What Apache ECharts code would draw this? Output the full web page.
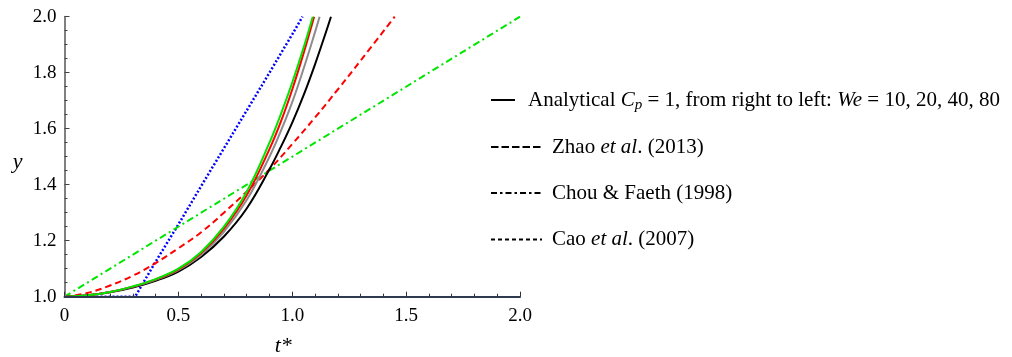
<!DOCTYPE html>
<html>
<head>
<meta charset="utf-8">
<script src="https://cdn.jsdelivr.net/npm/echarts@6/dist/echarts.min.js"></script>
<style>
  html, body { margin: 0; padding: 0; background: #fff; }
  #chart { width: 1012px; height: 357px; }
</style>
</head>
<body>
<div id="chart"></div>
<script>
// Axis ticks
const xTicks = [0, 0.5, 1.0, 1.5, 2.0];
const xTickLabels = ['0', '0.5', '1.0', '1.5', '2.0'];
const yTicks = [1.0, 1.2, 1.4, 1.6, 1.8, 2.0];
const yTickLabels = ['1.0', '1.2', '1.4', '1.6', '1.8', '2.0'];

// Analytical solution, Cp = 1, We = 10 (black)
const tWe10 = [0, 0.1, 0.2, 0.3, 0.4, 0.5, 0.6, 0.7, 0.8, 0.9, 0.95, 1.0, 1.05, 1.1, 1.15, 1.17];
const yWe10 = [1, 1.005, 1.016, 1.033, 1.057, 1.09, 1.142, 1.215, 1.315, 1.455, 1.535, 1.622, 1.72, 1.83, 1.95, 2.0];
// We = 20 (gray)
const tWe20 = [0, 0.1, 0.2, 0.3, 0.4, 0.5, 0.6, 0.7, 0.8, 0.9, 0.95, 1.0, 1.05, 1.1, 1.12];
const yWe20 = [1, 1.005, 1.017, 1.035, 1.06, 1.095, 1.15, 1.232, 1.345, 1.5, 1.592, 1.695, 1.815, 1.945, 2.0];
// We = 40 (red)
const tWe40 = [0, 0.1, 0.2, 0.3, 0.4, 0.5, 0.6, 0.7, 0.8, 0.9, 0.95, 1.0, 1.05, 1.096];
const yWe40 = [1, 1.005, 1.017, 1.036, 1.062, 1.098, 1.156, 1.243, 1.362, 1.527, 1.625, 1.74, 1.87, 2.0];
// We = 80 (green)
const tWe80 = [0, 0.1, 0.2, 0.3, 0.4, 0.5, 0.6, 0.7, 0.8, 0.9, 0.95, 1.0, 1.05, 1.09];
const yWe80 = [1, 1.005, 1.017, 1.037, 1.063, 1.1, 1.16, 1.25, 1.375, 1.55, 1.652, 1.765, 1.89, 2.0];

// Zhao et al. (2013)
const tZhao = [0, 0.1, 0.2, 0.3, 0.4, 0.5, 0.6, 0.7, 0.8, 0.9, 1.0, 1.1, 1.2, 1.3, 1.45];
const yZhao = [1, 1.013, 1.04, 1.075, 1.12, 1.173, 1.23, 1.3, 1.375, 1.455, 1.545, 1.64, 1.74, 1.843, 2.0];
// Chou & Faeth (1998)
const tChou = [0, 2.0];
const yChou = [1, 2.0];
// Cao et al. (2007)
const tCao = [0, 0.31, 0.4, 0.5, 0.6, 0.7, 0.8, 0.9, 1.0, 1.045];
const yCao = [1, 1, 1.125, 1.258, 1.395, 1.53, 1.665, 1.8, 1.937, 2.0];

const zip = (ts, ys) => ts.map((t, i) => [t, ys[i]]);

const FONT = 'Liberation Serif';
const GREEN = '#00e600';
const ANALYTICAL = 'Analytical';
const ZHAO = 'Zhao et al. (2013)';
const CHOU = 'Chou & Faeth (1998)';
const CAO = 'Cao et al. (2007)';

const LEG_FS = 21;
const legendText = {
  [ANALYTICAL]: '{a|Analytical }{i|C}{s|p}{n| = 1, from right to left: }{i|We}{n| = 10, 20, 40, 80}',
  [ZHAO]: '{b|Zhao }{i|et al}{n|. (2013)}',
  [CHOU]: '{b|Chou & Faeth (1998)}',
  [CAO]: '{b|Cao }{i|et al}{n|. (2007)}'
};

const richStyles = {
  a: { fontFamily: FONT, fontSize: LEG_FS, color: '#000', padding: [0, 0, 0, 8] },
  b: { fontFamily: FONT, fontSize: LEG_FS, color: '#000', padding: [0, 0, 0, 5] },
  n: { fontFamily: FONT, fontSize: LEG_FS, color: '#000' },
  i: { fontFamily: FONT, fontSize: LEG_FS, fontStyle: 'italic', color: '#000' },
  s: { fontFamily: FONT, fontSize: 15, fontStyle: 'italic', color: '#000', padding: [11, 0, 0, 0] }
};

// one legend block per row so each row sits at its own height
function legendRow(name, rowY, iconWidth, dash) {
  return {
    show: true,
    orient: 'vertical',
    left: 490,
    top: rowY - 10,
    itemWidth: iconWidth,
    itemHeight: 14,
    itemGap: 0,
    padding: 0,
    selectedMode: false,
    data: [{
      name: name,
      lineStyle: { color: '#000', width: 2, type: dash, cap: 'butt' },
      itemStyle: { color: 'rgba(0,0,0,0)', borderWidth: 0, opacity: 0 }
    }],
    formatter: (n) => legendText[n],
    textStyle: { fontFamily: FONT, fontSize: LEG_FS, color: '#000', rich: richStyles }
  };
}

function curve(name, ts, ys, color, type, width, smooth, z) {
  return {
    type: 'line',
    name: name,
    data: zip(ts, ys),
    showSymbol: false,
    symbol: 'none',
    smooth: smooth,
    clip: true,
    z: z,
    lineStyle: { color: color, width: width, type: type, cap: 'butt' },
    itemStyle: { color: color },
    emphasis: { disabled: true }
  };
}

const chart = echarts.init(document.getElementById('chart'), null, { renderer: 'canvas' });

chart.setOption({
  backgroundColor: '#fff',
  animation: false,
  grid: { left: 64.5, right: 492, top: 16.7, bottom: 60.3, containLabel: false, outerBoundsMode: 'none' },
  xAxis: {
    type: 'value',
    min: xTicks[0],
    max: xTicks[xTicks.length - 1],
    interval: 0.5,
    name: 't*',
    nameLocation: 'middle',
    nameGap: 39,
    nameTextStyle: { fontFamily: FONT, fontSize: 22, fontStyle: 'italic', color: '#000', padding: [0, 18, 0, 0] },
    axisLine: { show: true, onZero: false, lineStyle: { color: '#2e3a4e', width: 2 } },
    axisTick: { show: true, inside: true, length: 5, lineStyle: { color: '#333', width: 1 } },
    minorTick: { show: true, splitNumber: 5, length: 3, lineStyle: { color: '#333', width: 1 } },
    splitLine: { show: false },
    minorSplitLine: { show: false },
    axisLabel: {
      margin: 10,
      fontFamily: FONT,
      fontSize: 19,
      color: '#000',
      formatter: (v) => xTickLabels[xTicks.findIndex(t => Math.abs(t - v) < 1e-6)]
    },
    z: 5
  },
  yAxis: {
    type: 'value',
    min: yTicks[0],
    max: yTicks[yTicks.length - 1],
    interval: 0.2,
    name: '{v|y}',
    nameLocation: 'middle',
    nameRotate: 0,
    nameGap: 42,
    nameTextStyle: {
      fontFamily: FONT, fontSize: 22, fontStyle: 'italic', color: '#000',
      rich: { v: { fontFamily: FONT, fontSize: 22, fontStyle: 'italic', color: '#000', padding: [12, 0, 0, 0] } }
    },
    axisLine: { show: true, onZero: false, lineStyle: { color: '#808080', width: 2 } },
    axisTick: { show: true, inside: true, length: 5, lineStyle: { color: '#444', width: 1 } },
    minorTick: { show: true, splitNumber: 4, length: 3, lineStyle: { color: '#444', width: 1 } },
    splitLine: { show: false },
    minorSplitLine: { show: false },
    axisLabel: {
      margin: 8,
      fontFamily: FONT,
      fontSize: 19,
      color: '#000',
      formatter: (v) => yTickLabels[yTicks.findIndex(t => Math.abs(t - v) < 1e-6)]
    },
    z: 4
  },
  legend: [
    legendRow(ANALYTICAL, 99.5, 24, 'solid'),
    legendRow(ZHAO, 146.5, 51, [7.5, 3]),
    legendRow(CHOU, 192.5, 51, [6, 3, 2.5, 3]),
    legendRow(CAO, 239, 51, [4, 3])
  ],
  series: [
    curve(CAO, tCao, yCao, '#0000ff', [2, 2], 2.5, false, 2),
    curve(CHOU, tChou, yChou, GREEN, [7, 3.5, 2, 3.5], 2, false, 2),
    curve(ZHAO, tZhao, yZhao, '#ff0000', [6.5, 4], 2, 0.4, 2),
    curve(ANALYTICAL, tWe10, yWe10, '#000000', 'solid', 2, 0.4, 3),
    curve(ANALYTICAL, tWe20, yWe20, '#8c8c8c', 'solid', 2, 0.4, 3),
    curve(ANALYTICAL, tWe40, yWe40, '#ff0000', 'solid', 2, 0.4, 3),
    curve(ANALYTICAL, tWe80, yWe80, GREEN, 'solid', 2, 0.4, 3)
  ]
});
</script>
</body>
</html>
